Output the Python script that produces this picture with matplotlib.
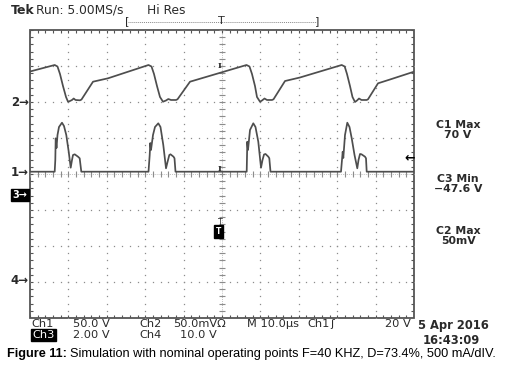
import numpy as np
import matplotlib.pyplot as plt
from matplotlib.patches import Rectangle
from matplotlib.lines import Line2D

# screen traces, x and y in graticule divisions (10 us/div)
ch2_x = [0.0, 0.643, 0.716, 0.781, 0.859, 0.938, 0.990, 1.042, 1.094, 1.138, 1.185,
         1.302, 1.341, 1.641, 2.031, 3.086, 3.164, 3.229, 3.307, 3.385, 3.464, 3.542,
         3.602, 3.672, 3.802, 3.841, 4.167, 5.638, 5.716, 5.781, 5.859, 5.911, 5.990,
         6.042, 6.107, 6.172, 6.302, 6.341, 6.641, 7.031, 8.117, 8.195, 8.255, 8.333,
         8.398, 8.464, 8.516, 8.568, 8.633, 8.768, 8.802, 9.063, 9.375, 10.0]
ch2_y = [2.847, 3.028, 2.986, 2.778, 2.444, 2.139, 2.008, 2.028, 2.056, 2.097, 2.056,
         2.047, 2.069, 2.564, 2.658, 3.028, 2.986, 2.778, 2.444, 2.139, 2.008, 2.042,
         2.083, 2.056, 2.056, 2.075, 2.564, 3.028, 2.986, 2.778, 2.444, 2.139, 2.008,
         2.042, 2.097, 2.056, 2.056, 2.075, 2.583, 2.681, 3.028, 2.986, 2.778, 2.444,
         2.139, 2.0, 2.042, 2.097, 2.056, 2.056, 2.075, 2.519, 2.625, 2.842]

ch1_x = [0.0, 0.643, 0.659, 0.669, 0.690, 0.716, 0.755, 0.833, 0.885, 0.945, 1.008,
         1.060, 1.094, 1.120, 1.164, 1.250, 1.294, 1.336,
         3.086, 3.117, 3.133, 3.151, 3.203, 3.255, 3.341, 3.398, 3.471, 3.542, 3.581,
         3.628, 3.659, 3.737, 3.763, 3.789,
         5.643, 5.659, 5.677, 5.729, 5.815, 5.872, 5.945, 6.016, 6.055, 6.094, 6.133,
         6.206, 6.232, 6.263,
         8.099, 8.143, 8.159, 8.203, 8.263, 8.320, 8.378, 8.451, 8.523, 8.555, 8.594,
         8.633, 8.724, 8.750, 8.768, 10.0]
ch1_y = [0.064, 0.064, 0.389, 0.992, 0.722, 1.083, 1.306, 1.425, 1.333, 1.083, 0.619,
         0.175, 0.389, 0.528, 0.547, 0.481, 0.436, 0.064,
         0.064, 0.528, 0.861, 0.667, 1.083, 1.306, 1.408, 1.306, 0.806, 0.158, 0.333,
         0.528, 0.547, 0.481, 0.436, 0.064,
         0.064, 0.897, 0.667, 1.222, 1.408, 1.306, 0.897, 0.175, 0.389, 0.542, 0.556,
         0.481, 0.436, 0.064,
         0.064, 0.619, 0.444, 1.083, 1.425, 1.306, 0.992, 0.528, 0.158, 0.389, 0.556,
         0.547, 0.481, 0.436, 0.064, 0.064]

right_labels = [("C1 Max", "70 V"), ("C3 Min", "\u221247.6 V"), ("C2 Max", "50mV")]
row1 = [("Ch1", 31.7), ("50.0 V", 72.7), ("Ch2", 139), ("50.0mV\u03a9", 173),
        ("M 10.0\u00b5s", 247), ("Ch1", 307), ("\u0283", 330), ("20 V", 385)]
row2 = [("2.00 V", 72.7), ("Ch4", 139), ("10.0 V", 180)]

W, H = 507, 372
fig = plt.figure(figsize=(W / 100, H / 100), dpi=100)
fig.patch.set_facecolor('white')
ax = fig.add_axes([30 / W, 54 / H, 384 / W, 288 / H])
ax.set_xlim(0, 10)
ax.set_ylim(-4, 4)
ax.axis('off')


def fx(px):
    return px / W


def fy(py):
    return 1 - py / H


grid_c = '#8c8c8c'
edge_c = '#555555'
txt_c = '#2a2a2a'
trace_c = '#4e4e4e'

# dotted graticule
ys = np.arange(-4, 4.001, 0.2)
xs = np.arange(0, 10.001, 0.2)
for k in range(1, 10):
    ax.plot([k] * len(ys), ys, ls='none', marker='s', ms=0.9, mew=0, color=grid_c)
for k in range(-3, 4):
    ax.plot(xs, [k] * len(xs), ls='none', marker='s', ms=0.9, mew=0, color=grid_c)

# centre cross ticks
ax.hlines(ys, 5 - 0.07, 5 + 0.07, color=grid_c, lw=0.8)
ax.vlines(xs, -0.07, 0.07, color=grid_c, lw=0.8)
ax.vlines(5, -4, 4, color=grid_c, lw=0.5, ls=(0, (1, 2)))
ax.hlines(0, 0, 10, color=grid_c, lw=0.5, ls=(0, (1, 2)))

# border and its ticks
ax.add_patch(Rectangle((0, -4), 10, 8, fill=False, ec=edge_c, lw=1.3, clip_on=False))
ax.vlines(xs, 4 - 0.08, 4, color=edge_c, lw=0.8)
ax.vlines(xs, -4, -4 + 0.08, color=edge_c, lw=0.8)
ax.hlines(ys, 0, 0.08, color=edge_c, lw=0.8)
ax.hlines(ys, 10 - 0.08, 10, color=edge_c, lw=0.8)

# traces
ax.plot(ch2_x, ch2_y, color=trace_c, lw=1.25, solid_joinstyle='round')
ax.plot(ch1_x, ch1_y, color=trace_c, lw=1.25, solid_joinstyle='round')

# trigger-position marks on the traces
for yy in (3.0, 0.15):
    ax.text(4.95, yy, "I", fontsize=6, family='DejaVu Serif', color=txt_c,
            ha='center', va='center', fontweight='bold')
ax.text(4.95, -1.35, "T", fontsize=5.5, color=txt_c, ha='center', va='center')
ax.text(4.9, -1.6, "T", fontsize=5.5, color='white', ha='center', va='center',
        fontweight='bold',
        bbox=dict(boxstyle='square,pad=0.25', fc='black', ec='black'))

# header
fig.text(fx(11), fy(10), "Tek", fontsize=9, fontweight='bold', color=txt_c, va='center')
fig.text(fx(36), fy(10), "Run: 5.00MS/s", fontsize=8.8, color=txt_c, va='center')
fig.text(fx(147), fy(10), "Hi Res", fontsize=8.8, color=txt_c, va='center')
fig.text(fx(125), fy(21), "[", fontsize=8, color=txt_c, va='center', ha='left')
fig.text(fx(319), fy(21), "]", fontsize=8, color=txt_c, va='center', ha='right')
fig.add_artist(Line2D([fx(128), fx(316)], [fy(21.5), fy(21.5)], transform=fig.transFigure,
                      color='#888888', lw=0.7, ls=(0, (1, 1))))
fig.text(fx(221), fy(21), "T", fontsize=8, color=txt_c, va='center', ha='center')

# channel ground markers
for lab, py in (("2", 102), ("1", 172), ("4", 281)):
    fig.text(fx(29), fy(py), lab + "\u2192", fontsize=8.5, fontweight='bold',
             color=txt_c, ha='right', va='center')
fig.text(fx(27.5), fy(195), "3\u2192", fontsize=7, fontweight='bold', color='white',
         ha='right', va='center',
         bbox=dict(boxstyle='square,pad=0.12', fc='black', ec='black'))

# trigger level arrow
fig.text(fx(415), fy(157.5), "\u2190", fontsize=9, fontweight='bold', color='black',
         ha='right', va='center')

# measurement readouts
for (a, b), py in zip(right_labels, (125, 178.5, 230.5)):
    fig.text(fx(458), fy(py), a, fontsize=7.8, fontweight='bold', color=txt_c,
             ha='center', va='center')
    fig.text(fx(458), fy(py + 10.5), b, fontsize=7.8, fontweight='bold', color=txt_c,
             ha='center', va='center')

# bottom readout rows
for s, px in row1:
    fig.text(fx(px), fy(324), s, fontsize=8.2, color=txt_c, va='center')
fig.text(fx(32.5), fy(334.7), "Ch3", fontsize=8.2, color='white', va='center',
         bbox=dict(boxstyle='square,pad=0.1', fc='black', ec='black'))
for s, px in row2:
    fig.text(fx(px), fy(334.7), s, fontsize=8.2, color=txt_c, va='center')
fig.text(fx(418), fy(325.7), "5 Apr 2016", fontsize=8.3, fontweight='bold',
         color=txt_c, va='center')
fig.text(fx(423), fy(340.7), "16:43:09", fontsize=8.3, fontweight='bold',
         color=txt_c, va='center')

# caption
cap_b = fig.text(fx(7), fy(354), "Figure 11:", fontsize=9.15, fontweight='bold',
                 family='Liberation Sans', color='black', va='center')
r = fig.canvas.get_renderer()
bb = cap_b.get_window_extent(r)
fig.text(bb.x1 / W + 3 / W, fy(354),
         "Simulation with nominal operating points F=40 KHZ, D=73.4%, 500 mA/dIV.",
         fontsize=9.15, family='Liberation Sans', color='black', va='center')

fig.savefig("out.png", dpi=100, facecolor='white')
